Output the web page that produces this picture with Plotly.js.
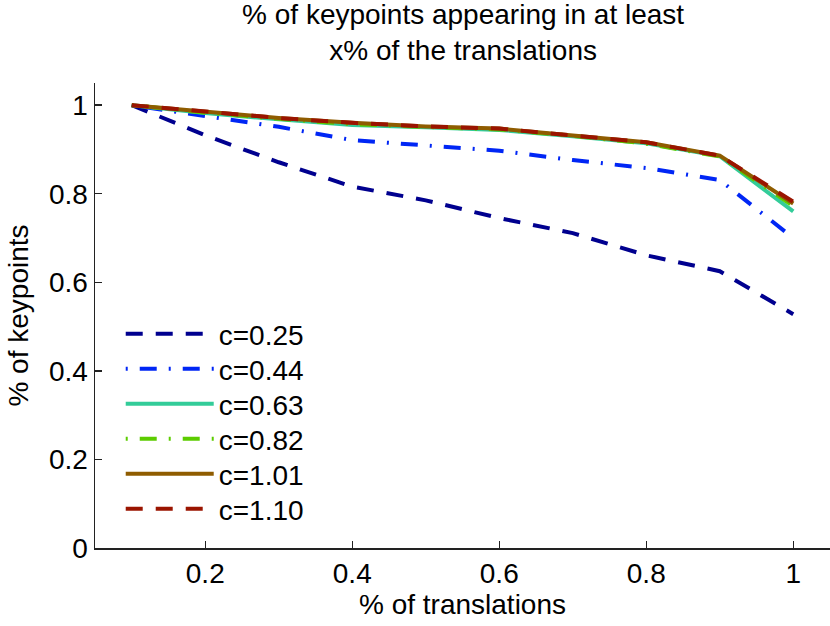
<!DOCTYPE html>
<html>
<head>
<meta charset="utf-8">
<script src="https://cdn.plot.ly/plotly-3.0.1.min.js"></script>
<style>
  html, body { margin: 0; padding: 0; background: #fff; }
  #chart { width: 830px; height: 626px; }
</style>
</head>
<body>
<div id="chart"></div>
<script>
// fraction of translations (x)
var translations = [0.1, 0.2, 0.3, 0.4, 0.5, 0.6, 0.7, 0.8, 0.9, 1.0];

// % of keypoints, one array per c value
var c025 = [1.0, 0.932, 0.871, 0.816, 0.785, 0.745, 0.711, 0.661, 0.625, 0.528];
var c044 = [1.0, 0.975, 0.951, 0.921, 0.910, 0.897, 0.876, 0.858, 0.831, 0.700];
var c063 = [1.0, 0.982, 0.968, 0.955, 0.950, 0.944, 0.930, 0.914, 0.885, 0.760];
var c082 = [1.0, 0.983, 0.969, 0.957, 0.951, 0.945, 0.931, 0.913, 0.884, 0.772];
var c101 = [1.0, 0.985, 0.971, 0.960, 0.952, 0.947, 0.932, 0.916, 0.886, 0.778];
var c110 = [1.0, 0.985, 0.971, 0.960, 0.952, 0.947, 0.932, 0.916, 0.886, 0.782];

var names = ["c=0.25", "c=0.44", "c=0.63", "c=0.82", "c=1.01", "c=1.10"];
var colors = ["#00008f", "#0026f5", "#33cc99", "#5ccc00", "#8f5c00", "#9a1400"];
var dashes = ["17px,13px", "2px,12px,17px,12px", "solid", "2px,12px,17px,12px", "solid", "17px,13px"];
var series = [c025, c044, c063, c082, c101, c110];

function createGraph() {
    var font = { family: "Liberation Sans, Arial, sans-serif", size: 28, color: "#000" };

    var layout = {
        width: 830,
        height: 626,
        margin: { l: 95, r: 0, t: 83, b: 78 },
        paper_bgcolor: "#fff",
        plot_bgcolor: "#fff",
        font: font,
        title: {
            text: "% of keypoints appearing in at least<br>x% of the translations",
            font: font,
            x: 0.558, xanchor: "center",
            y: 0.962, yanchor: "top"
        },
        xaxis: {
            range: [0.05, 1.05],
            tickvals: [0.2, 0.4, 0.6, 0.8, 1],
            ticktext: ["0.2", "0.4", "0.6", "0.8", "1"],
            ticks: "inside", ticklen: 7, tickwidth: 1.5, tickcolor: "#222",
            showline: true, linecolor: "#222", linewidth: 1.5,
            showgrid: false, zeroline: false,
            tickfont: font,
            title: { text: "% of translations", font: font, standoff: 6 }
        },
        yaxis: {
            range: [0, 1.05],
            tickvals: [0, 0.2, 0.4, 0.6, 0.8, 1],
            ticktext: ["0", "0.2", "0.4", "0.6", "0.8", "1"],
            ticks: "inside", ticklen: 7, tickwidth: 1.5, tickcolor: "#222",
            showline: true, linecolor: "#222", linewidth: 1.5,
            showgrid: false, zeroline: false,
            tickfont: font,
            title: { text: "% of keypoints", font: font, standoff: 12 }
        },
        showlegend: true
    };

    // one legend per trace so the rows can sit 35px apart like the original
    var traces = [];
    for (var i = 0; i < series.length; i++) {
        var key = i === 0 ? "legend" : "legend" + (i + 1);
        traces.push({
            x: translations,
            y: series[i],
            name: names[i],
            type: "scatter",
            mode: "lines",
            legend: key,
            line: { color: colors[i], width: 4, dash: dashes[i] }
        });
        layout[key] = {
            x: 0.035, y: 0.514 - i * 35 / 465, xanchor: "left", yanchor: "top",
            bgcolor: "rgba(0,0,0,0)",
            font: font,
            itemwidth: 88
        };
    }

    Plotly.newPlot("chart", traces, layout, { displayModeBar: false, staticPlot: true });
}

createGraph();
</script>
</body>
</html>
